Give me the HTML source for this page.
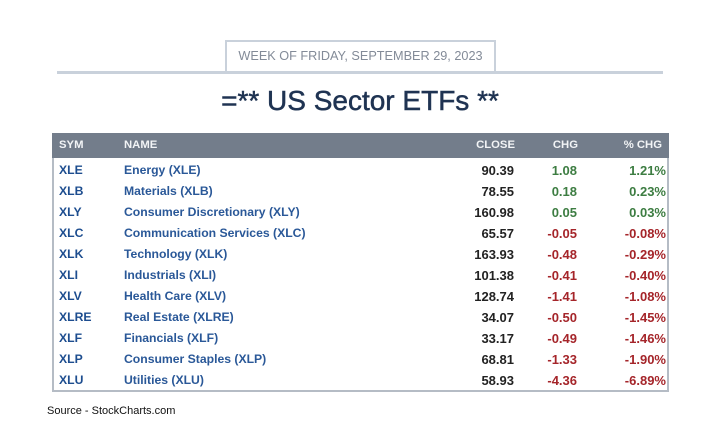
<!DOCTYPE html>
<html><head><meta charset="utf-8">
<style>
html,body{margin:0;padding:0;background:#fff;}
body{width:720px;height:432px;position:relative;overflow:hidden;font-family:"Liberation Sans",Arial,sans-serif;}
.abs{position:absolute;white-space:nowrap;}
#rule{left:57px;top:71px;width:606px;height:3px;background:#c9d1db;}
#wk{left:225px;top:40px;width:267px;height:31px;border:2px solid #c9d1db;border-bottom:none;}
#wkt{left:225px;top:40px;width:271px;height:32px;line-height:33px;text-align:center;font-size:12.7px;color:#838b98;}
#title{left:0;top:84px;width:720px;text-align:center;font-size:28px;line-height:34px;color:#1f3352;-webkit-text-stroke:0.5px #1f3352;}
#tbl{left:52px;top:133px;width:613px;height:257px;border:2px solid #b5bcc5;border-top:none;}
#hdr{left:52px;top:133px;width:617px;height:25px;background:#737d8b;}
.h{font-size:11.3px;font-weight:bold;color:#f2f4f6;line-height:25px;top:133px;}
.r{font-size:12.2px;font-weight:bold;line-height:21px;margin-top:1px;}
.n{font-size:13px;font-weight:bold;line-height:21px;text-align:right;margin-top:1px;}
.sym{color:#1d4d8f;left:59px;}
.nm{color:#2a5898;left:124px;}
.cl{color:#222;right:206px;}
.ch{right:143px;}
.pc{right:54px;}
.g{color:#3d7d42;}
.d{color:#a5252a;}
#src{left:47px;top:403px;font-size:11px;color:#111;line-height:16px;}
</style></head><body>
<div class="abs" id="rule"></div>
<div class="abs" id="wk"></div>
<div class="abs" id="wkt">WEEK OF FRIDAY, SEPTEMBER 29, 2023</div>
<div class="abs" id="title">=** US Sector ETFs **</div>
<div class="abs" id="tbl"></div>
<div class="abs" id="hdr"></div>
<div class="abs h" style="left:59px;">SYM</div>
<div class="abs h" style="left:124px;">NAME</div>
<div class="abs h" style="right:205px;">CLOSE</div>
<div class="abs h" style="right:142px;">CHG</div>
<div class="abs h" style="right:58px;">% CHG</div>

<div class="abs r sym" style="top:159px">XLE</div><div class="abs r nm" style="top:159px">Energy (XLE)</div><div class="abs n cl" style="top:159px">90.39</div><div class="abs n ch g" style="top:159px">1.08</div><div class="abs n pc g" style="top:159px">1.21%</div>
<div class="abs r sym" style="top:180px">XLB</div><div class="abs r nm" style="top:180px">Materials (XLB)</div><div class="abs n cl" style="top:180px">78.55</div><div class="abs n ch g" style="top:180px">0.18</div><div class="abs n pc g" style="top:180px">0.23%</div>
<div class="abs r sym" style="top:201px">XLY</div><div class="abs r nm" style="top:201px">Consumer Discretionary (XLY)</div><div class="abs n cl" style="top:201px">160.98</div><div class="abs n ch g" style="top:201px">0.05</div><div class="abs n pc g" style="top:201px">0.03%</div>
<div class="abs r sym" style="top:222px">XLC</div><div class="abs r nm" style="top:222px">Communication Services (XLC)</div><div class="abs n cl" style="top:222px">65.57</div><div class="abs n ch d" style="top:222px">-0.05</div><div class="abs n pc d" style="top:222px">-0.08%</div>
<div class="abs r sym" style="top:243px">XLK</div><div class="abs r nm" style="top:243px">Technology (XLK)</div><div class="abs n cl" style="top:243px">163.93</div><div class="abs n ch d" style="top:243px">-0.48</div><div class="abs n pc d" style="top:243px">-0.29%</div>
<div class="abs r sym" style="top:264px">XLI</div><div class="abs r nm" style="top:264px">Industrials (XLI)</div><div class="abs n cl" style="top:264px">101.38</div><div class="abs n ch d" style="top:264px">-0.41</div><div class="abs n pc d" style="top:264px">-0.40%</div>
<div class="abs r sym" style="top:285px">XLV</div><div class="abs r nm" style="top:285px">Health Care (XLV)</div><div class="abs n cl" style="top:285px">128.74</div><div class="abs n ch d" style="top:285px">-1.41</div><div class="abs n pc d" style="top:285px">-1.08%</div>
<div class="abs r sym" style="top:306px">XLRE</div><div class="abs r nm" style="top:306px">Real Estate (XLRE)</div><div class="abs n cl" style="top:306px">34.07</div><div class="abs n ch d" style="top:306px">-0.50</div><div class="abs n pc d" style="top:306px">-1.45%</div>
<div class="abs r sym" style="top:327px">XLF</div><div class="abs r nm" style="top:327px">Financials (XLF)</div><div class="abs n cl" style="top:327px">33.17</div><div class="abs n ch d" style="top:327px">-0.49</div><div class="abs n pc d" style="top:327px">-1.46%</div>
<div class="abs r sym" style="top:348px">XLP</div><div class="abs r nm" style="top:348px">Consumer Staples (XLP)</div><div class="abs n cl" style="top:348px">68.81</div><div class="abs n ch d" style="top:348px">-1.33</div><div class="abs n pc d" style="top:348px">-1.90%</div>
<div class="abs r sym" style="top:369px">XLU</div><div class="abs r nm" style="top:369px">Utilities (XLU)</div><div class="abs n cl" style="top:369px">58.93</div><div class="abs n ch d" style="top:369px">-4.36</div><div class="abs n pc d" style="top:369px">-6.89%</div>

<div class="abs" id="src">Source - StockCharts.com</div>
</body></html>
